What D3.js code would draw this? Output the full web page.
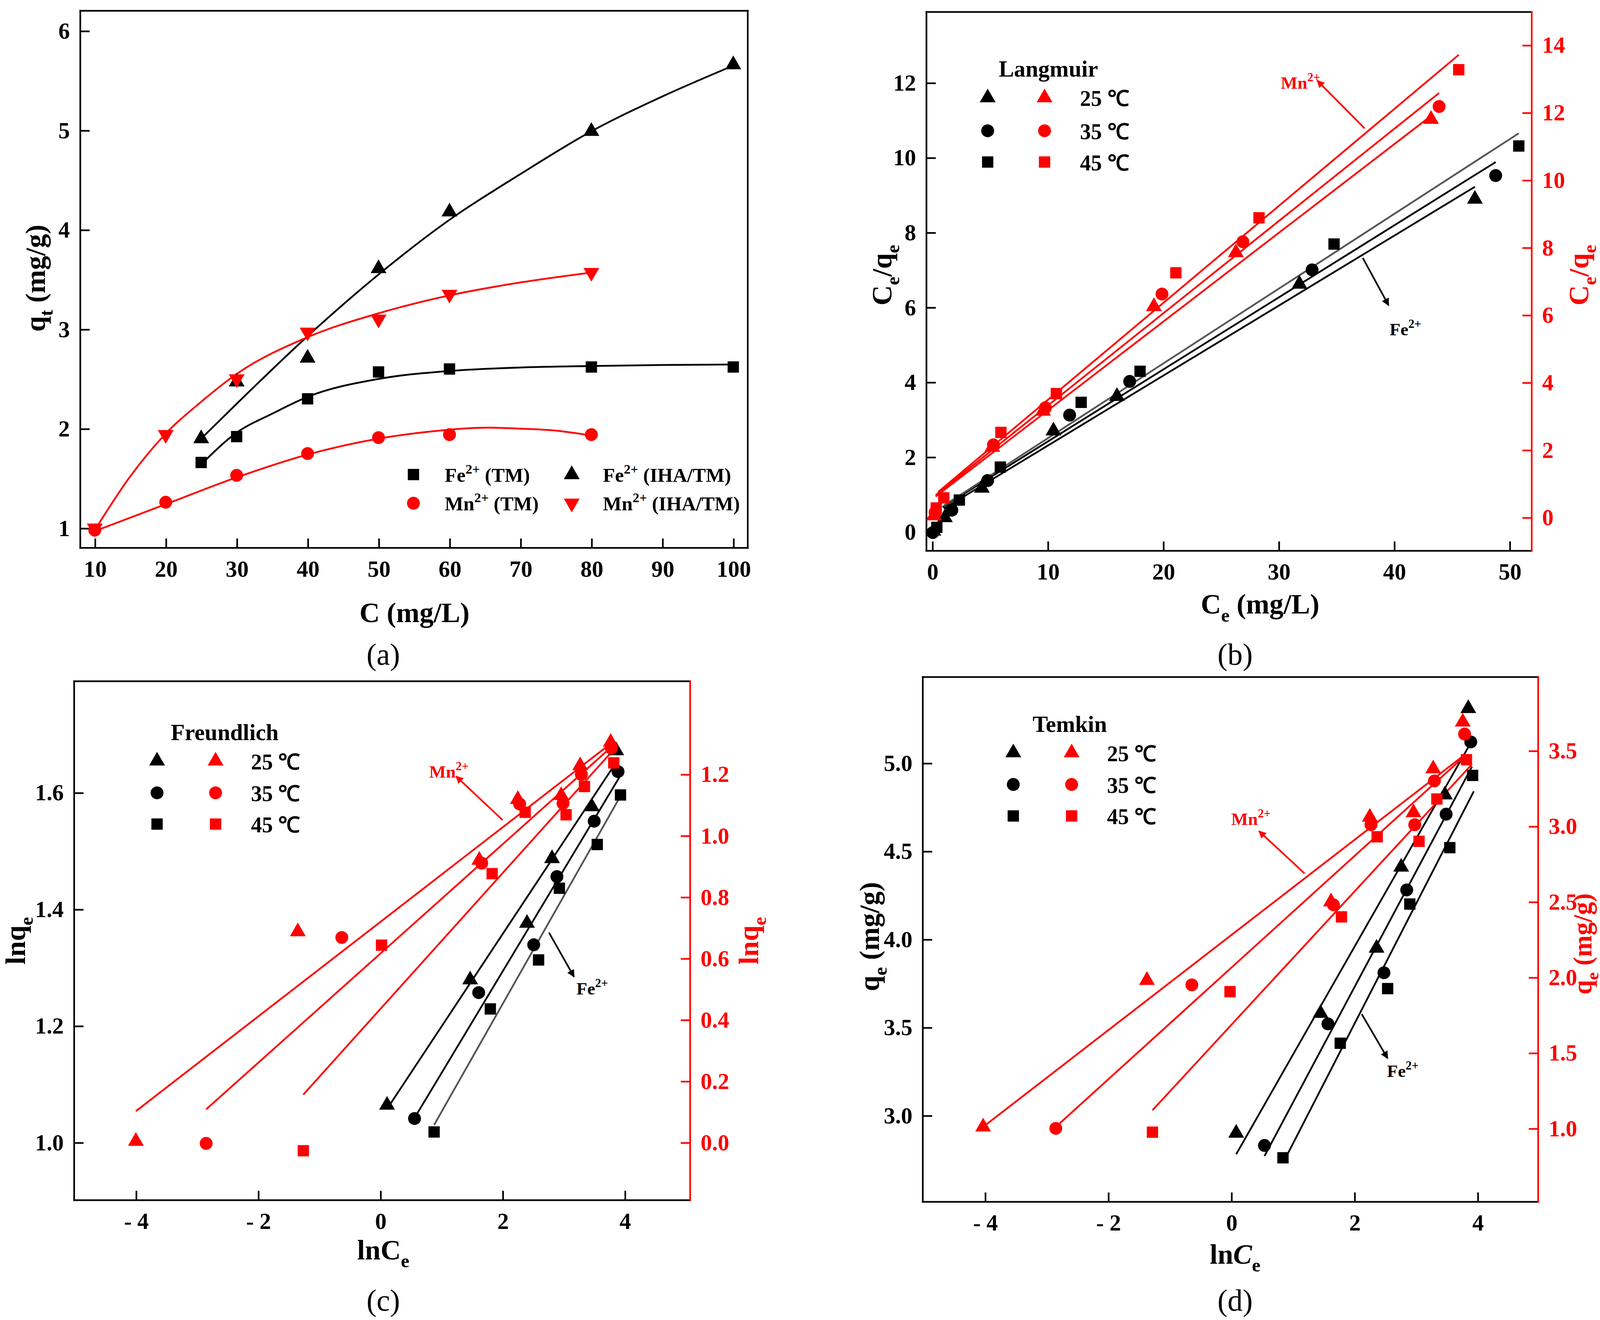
<!DOCTYPE html>
<html>
<head>
<meta charset="utf-8">
<script src="https://cdn.jsdelivr.net/npm/d3@7"></script>
<style>
html, body { margin: 0; padding: 0; background: #fff; overflow: hidden; }
svg { display: block; }
</style>
</head>
<body>
<script>
// ---------- (a) 初始浓度 - 吸附量 ----------
const aFeTM_C = [25, 30, 40, 50, 60, 80, 100];
const aFeTM_q = [1.66, 1.92, 2.30, 2.57, 2.60, 2.62, 2.62];
const aFeIHA_C = [25, 30, 40, 50, 60, 80, 100];
const aFeIHA_q = [1.90, 2.47, 2.71, 3.61, 4.18, 4.99, 5.66];
const aMnTM_C = [10, 20, 30, 40, 50, 60, 80];
const aMnTM_q = [0.98, 1.26, 1.53, 1.75, 1.91, 1.94, 1.94];
const aMnIHA_C = [10, 20, 30, 40, 50, 60, 80];
const aMnIHA_q = [1.00, 1.94, 2.50, 2.97, 3.10, 3.35, 3.57];
// 拟合曲线
const aFeTM_fitC = [25, 30, 35, 40, 50, 60, 70, 80, 90, 100];
const aFeTM_fitQ = [1.64, 1.96, 2.15, 2.32, 2.50, 2.58, 2.615, 2.63, 2.64, 2.645];
const aFeIHA_fitC = [25, 30, 40, 50, 60, 70, 80, 90, 100];
const aFeIHA_fitQ = [1.90, 2.25, 2.93, 3.55, 4.10, 4.56, 4.99, 5.34, 5.65];
const aMnTM_fitC = [10, 20, 30, 40, 50, 60, 65, 70, 75, 80];
const aMnTM_fitQ = [0.97, 1.24, 1.51, 1.74, 1.90, 1.99, 2.01, 2.00, 1.98, 1.93];
const aMnIHA_fitC = [10, 15, 20, 25, 30, 40, 50, 60, 70, 80];
const aMnIHA_fitQ = [0.98, 1.52, 1.95, 2.27, 2.55, 2.92, 3.16, 3.34, 3.47, 3.57];

// ---------- (b) Langmuir ----------
const bFe25_Ce = [0.1, 1.1, 4.3, 10.5, 16.0, 31.8, 47.0];
const bFe25_R = [0.02, 0.38, 1.17, 2.70, 3.62, 6.62, 8.89];
const bFe35_Ce = [0.05, 1.7, 4.8, 11.9, 17.1, 32.9, 48.8];
const bFe35_R = [-0.02, 0.58, 1.37, 3.12, 4.02, 7.00, 9.52];
const bFe45_Ce = [0.4, 2.35, 5.9, 12.9, 18.0, 34.8, 50.8];
const bFe45_R = [0.12, 0.85, 1.73, 3.46, 4.29, 7.69, 10.31];
const bMn25_Ce = [0.15, 5.2, 9.6, 19.2, 26.3, 43.2];
const bMn25_R = [0.05, 2.08, 3.15, 6.25, 7.85, 11.80];
const bMn35_Ce = [0.25, 5.3, 9.8, 19.9, 26.9, 43.9];
const bMn35_R = [0.15, 2.15, 3.25, 6.62, 8.17, 12.18];
const bMn45_Ce = [0.35, 1.0, 5.95, 10.75, 21.1, 28.3, 45.6];
const bMn45_R = [0.28, 0.58, 2.52, 3.67, 7.25, 8.88, 13.27];
const bFe25_fit = [[1.0, 0.62], [47.0, 9.22]];
const bFe35_fit = [[0.9, 0.66], [48.8, 9.88]];
const bFe45_fit = [[1.0, 0.70], [50.8, 10.65]];
const bMn25_fit = [[0.3, 0.62], [43.2, 11.90]];
const bMn35_fit = [[0.3, 0.66], [43.9, 12.58]];
const bMn45_fit = [[0.5, 0.75], [45.6, 13.71]];

// ---------- (c) Freundlich ----------
const cFe25_x = [0.11, 1.47, 2.40, 2.81, 3.46, 3.86];
const cFe25_y = [1.064, 1.279, 1.376, 1.487, 1.576, 1.672];
const cFe35_x = [0.56, 1.61, 2.51, 2.89, 3.50, 3.89];
const cFe35_y = [1.041, 1.257, 1.339, 1.456, 1.551, 1.636];
const cFe45_x = [0.88, 1.80, 2.59, 2.93, 3.55, 3.93];
const cFe45_y = [1.018, 1.229, 1.313, 1.436, 1.511, 1.596];
const cMn25_x = [-4.0, -1.35, 1.62, 2.25, 2.96, 3.27, 3.77];
const cMn25_y = [0.004, 0.687, 0.92, 1.118, 1.131, 1.228, 1.304];
const cMn35_x = [-2.85, -0.63, 1.66, 2.28, 2.99, 3.29, 3.78];
const cMn35_y = [-0.003, 0.668, 0.91, 1.103, 1.105, 1.199, 1.285];
const cMn45_x = [-1.26, 0.02, 1.83, 2.37, 3.04, 3.34, 3.82];
const cMn45_y = [-0.027, 0.643, 0.876, 1.076, 1.068, 1.160, 1.237];
const cFe25_fit = [[0.12, 1.059], [3.79, 1.641]];
const cFe35_fit = [[0.56, 1.042], [3.91, 1.626]];
const cFe45_fit = [[0.88, 1.030], [3.94, 1.596]];
const cMn25_fit = [[-4.0, 0.102], [3.72, 1.292]];
const cMn35_fit = [[-2.85, 0.108], [3.76, 1.285]];
const cMn45_fit = [[-1.26, 0.156], [3.80, 1.276]];

// ---------- (d) Temkin ----------
const dFe25_x = [0.08, 1.45, 2.36, 2.76, 3.47, 3.85];
const dFe25_y = [2.90, 3.58, 3.95, 4.41, 4.82, 5.31];
const dFe35_x = [0.54, 1.57, 2.48, 2.85, 3.49, 3.89];
const dFe35_y = [2.83, 3.52, 3.81, 4.28, 4.71, 5.12];
const dFe45_x = [0.84, 1.77, 2.54, 2.90, 3.55, 3.92];
const dFe45_y = [2.76, 3.41, 3.72, 4.20, 4.52, 4.93];
const dMn25_x = [-4.03, -1.37, 1.62, 2.25, 2.96, 3.28, 3.76];
const dMn25_y = [1.01, 1.98, 2.50, 3.06, 3.09, 3.38, 3.69];
const dMn35_x = [-2.85, -0.64, 1.66, 2.27, 2.98, 3.30, 3.79];
const dMn35_y = [1.00, 1.95, 2.48, 3.01, 3.01, 3.30, 3.61];
const dMn45_x = [-1.28, -0.02, 1.79, 2.37, 3.05, 3.34, 3.82];
const dMn45_y = [0.975, 1.905, 2.40, 2.93, 2.90, 3.18, 3.44];
const dFe25_fit = [[0.08, 2.78], [3.85, 5.09]];
const dFe35_fit = [[0.54, 2.77], [3.91, 4.98]];
const dFe45_fit = [[0.84, 2.73], [3.94, 4.84]];
const dMn25_fit = [[-4.03, 1.01], [3.75, 3.46]];
const dMn35_fit = [[-2.85, 1.01], [3.78, 3.46]];
const dMn45_fit = [[-1.28, 1.12], [3.91, 3.41]];

// 图例文字
const tempLabels = ["25 ℃", "35 ℃", "45 ℃"];

const FONT = '"Liberation Serif", "Times New Roman", serif';
const RED = "#ff0000";
const GRAY = "#555555";

const svg = d3.select("body").append("svg")
    .attr("width", 4159)
    .attr("height", 3378)
    .attr("viewBox", "0 0 1560 1267")
    .style("font-family", FONT)
    .style("font-weight", "bold");

const defs = svg.append("defs");
[["arrowK", "#000"], ["arrowR", RED]].forEach(([id, c]) => {
    defs.append("marker")
        .attr("id", id)
        .attr("viewBox", "0 0 10 10")
        .attr("refX", 9).attr("refY", 5)
        .attr("markerWidth", 7).attr("markerHeight", 4.6)
        .attr("orient", "auto")
        .append("path").attr("d", "M0,0 L10,5 L0,10 z").attr("fill", c);
});

const SYM = { tri: d3.symbolTriangle, cir: d3.symbolCircle, sq: d3.symbolSquare, down: d3.symbolTriangle };
const SYM_SIZE = { tri: 100, cir: 120, sq: 118, down: 100 };

function sym(g, shape, cx, cy, color) {
    g.append("path")
        .attr("d", d3.symbol().type(SYM[shape]).size(SYM_SIZE[shape])())
        .attr("transform", `translate(${cx},${cy})` + (shape === "down" ? " rotate(180)" : ""))
        .attr("fill", color);
}

// 带上下标的文字
function rich(g, parts, size, attrs) {
    const t = g.append("text").attr("font-size", size);
    Object.entries(attrs).forEach(([k, v]) => t.attr(k, v));
    let shift = 0;
    parts.forEach(p => {
        const [s, kind, style] = Array.isArray(p) ? p : [p];
        const target = kind === "sup" ? -0.42 * size : kind === "sub" ? 0.28 * size : 0;
        const sp = t.append("tspan").text(s).attr("dy", target - shift);
        if (kind) sp.attr("font-size", size * 0.68);
        if (style === "italic") sp.attr("font-style", "italic");
        shift = target;
    });
    return t;
}

function styleAxis(sel, color) {
    sel.select(".domain").remove();
    sel.selectAll(".tick line").attr("stroke", color).attr("stroke-width", 1.6);
    sel.selectAll(".tick text")
        .attr("fill", color)
        .attr("font-size", 22)
        .attr("font-family", FONT)
        .attr("font-weight", "bold");
}

const minusFmt = d => d < 0 ? "- " + Math.abs(d) : String(d);

function makePanel(p) {
    const g = svg.append("g");
    const x = d3.scaleLinear().domain(p.xDomain).range([p.l, p.r]);
    const y = d3.scaleLinear().domain(p.yDomain).range([p.b, p.t]);
    const y2 = p.y2Domain ? d3.scaleLinear().domain(p.y2Domain).range([p.b, p.t]) : null;

    g.append("g").attr("transform", `translate(0,${p.b})`)
        .call(d3.axisBottom(x).tickValues(p.xTicks).tickFormat(p.xFmt)
            .tickSizeInner(-9).tickSizeOuter(0).tickPadding(12))
        .call(styleAxis, "#000");
    g.append("g").attr("transform", `translate(${p.l},0)`)
        .call(d3.axisLeft(y).tickValues(p.yTicks).tickFormat(p.yFmt)
            .tickSizeInner(-9).tickSizeOuter(0).tickPadding(10))
        .call(styleAxis, "#000");
    if (y2) {
        g.append("g").attr("transform", `translate(${p.r},0)`)
            .call(d3.axisRight(y2).tickValues(p.y2Ticks).tickFormat(p.y2Fmt)
                .tickSizeInner(-9).tickSizeOuter(0).tickPadding(10))
            .call(styleAxis, RED);
    }

    const fr = g.append("g").attr("stroke-width", 1.6).attr("stroke-linecap", "square");
    fr.append("line").attr("x1", p.l).attr("x2", p.r).attr("y1", p.t).attr("y2", p.t).attr("stroke", "#000");
    fr.append("line").attr("x1", p.l).attr("x2", p.r).attr("y1", p.b).attr("y2", p.b).attr("stroke", "#000");
    fr.append("line").attr("x1", p.l).attr("x2", p.l).attr("y1", p.t).attr("y2", p.b).attr("stroke", "#000");
    fr.append("line").attr("x1", p.r).attr("x2", p.r).attr("y1", p.t).attr("y2", p.b)
        .attr("stroke", y2 ? RED : "#000");

    return { g, x, y, y2, p };
}

function drawFit(P, pts, ys, color, curve) {
    const line = d3.line()
        .x(d => P.x(d[0]))
        .y(d => ys(d[1]))
        .curve(curve || d3.curveLinear);
    P.g.append("path")
        .attr("d", line(pts))
        .attr("fill", "none")
        .attr("stroke", color)
        .attr("stroke-width", 1.7);
}

function drawPts(P, xs, vals, ys, shape, color) {
    xs.forEach((v, i) => sym(P.g, shape, P.x(v), ys(vals[i]), color));
}

function annotate(P, label, color, textPos, anchor, arrow) {
    const c = color === RED ? "arrowR" : "arrowK";
    P.g.append("line")
        .attr("x1", P.x(arrow[0][0])).attr("y1", P.y(arrow[0][1]))
        .attr("x2", P.x(arrow[1][0])).attr("y2", P.y(arrow[1][1]))
        .attr("stroke", color).attr("stroke-width", 1.6)
        .attr("marker-end", `url(#${c})`);
    rich(P.g, [label, ["2+", "sup"]], 17, {
        x: P.x(textPos[0]), y: P.y(textPos[1]), fill: color, "text-anchor": anchor
    });
}

function tempLegend(P, title, tx, ty, kx, rx, lx, rows) {
    rich(P.g, [title], 22, { x: tx, y: ty });
    ["tri", "cir", "sq"].forEach((s, i) => {
        sym(P.g, s, kx, rows[i], "#000");
        sym(P.g, s, rx, rows[i], RED);
        rich(P.g, [tempLabels[i]], 21, { x: lx, y: rows[i] + 8 });
    });
}

function rotTitle(g, parts, cx, cy, color, size) {
    rich(g, parts, size || 27, {
        transform: `translate(${cx},${cy}) rotate(-90)`,
        "text-anchor": "middle", y: 9, fill: color
    });
}

function caption(label, cx, cy) {
    svg.append("text").attr("x", cx).attr("y", cy)
        .attr("text-anchor", "middle").attr("font-size", 29)
        .attr("font-weight", "normal").text(label);
}

const zip = (a, b) => a.map((v, i) => [v, b[i]]);

// ================= (a) =================
const A = makePanel({
    l: 77.1, r: 718, t: 10.3, b: 525.9,
    xDomain: [7.96, 102.04], yDomain: [0.801, 6.202],
    xTicks: d3.range(10, 101, 10), yTicks: [1, 2, 3, 4, 5, 6],
    xFmt: d3.format("d"), yFmt: d3.format("d")
});
drawFit(A, zip(aFeTM_fitC, aFeTM_fitQ), A.y, "#000", d3.curveMonotoneX);
drawFit(A, zip(aFeIHA_fitC, aFeIHA_fitQ), A.y, "#000", d3.curveMonotoneX);
drawFit(A, zip(aMnTM_fitC, aMnTM_fitQ), A.y, RED, d3.curveCatmullRom);
drawFit(A, zip(aMnIHA_fitC, aMnIHA_fitQ), A.y, RED, d3.curveMonotoneX);
drawPts(A, aFeTM_C, aFeTM_q, A.y, "sq", "#000");
drawPts(A, aFeIHA_C, aFeIHA_q, A.y, "tri", "#000");
drawPts(A, aMnTM_C, aMnTM_q, A.y, "cir", RED);
drawPts(A, aMnIHA_C, aMnIHA_q, A.y, "down", RED);

const aLegend = [
    { s: "sq", c: "#000", el: "Fe", tag: " (TM)", x: 397, y: 455.5 },
    { s: "tri", c: "#000", el: "Fe", tag: " (IHA/TM)", x: 549, y: 455.5 },
    { s: "cir", c: RED, el: "Mn", tag: " (TM)", x: 397, y: 483 },
    { s: "down", c: RED, el: "Mn", tag: " (IHA/TM)", x: 549, y: 483 }
];
aLegend.forEach(d => {
    sym(A.g, d.s, d.x, d.y, d.c);
    rich(A.g, [d.el, ["2+", "sup"], d.tag], 19, { x: d.x + 30, y: d.y + 7 });
});
rotTitle(A.g, ["q", ["t", "sub"], " (mg/g)"], 34, 267, "#000");
rich(A.g, ["C (mg/L)"], 27, { x: 398, y: 597, "text-anchor": "middle" });
caption("(a)", 368, 638);

// ================= (b) =================
const B = makePanel({
    l: 889.6, r: 1470.8, t: 11.5, b: 528.7,
    xDomain: [-0.50, 51.92], yDomain: [-0.507, 13.89], y2Domain: [-0.99, 14.98],
    xTicks: [0, 10, 20, 30, 40, 50], yTicks: d3.range(0, 13, 2), y2Ticks: d3.range(0, 15, 2),
    xFmt: d3.format("d"), yFmt: d3.format("d"), y2Fmt: d3.format("d")
});
drawFit(B, bFe25_fit, B.y, "#000");
drawFit(B, bFe35_fit, B.y, "#000");
drawFit(B, bFe45_fit, B.y, GRAY);
drawFit(B, bMn25_fit, B.y2, RED);
drawFit(B, bMn35_fit, B.y2, RED);
drawFit(B, bMn45_fit, B.y2, RED);
drawPts(B, bFe25_Ce, bFe25_R, B.y, "tri", "#000");
drawPts(B, bFe35_Ce, bFe35_R, B.y, "cir", "#000");
drawPts(B, bFe45_Ce, bFe45_R, B.y, "sq", "#000");
drawPts(B, bMn25_Ce, bMn25_R, B.y2, "tri", RED);
drawPts(B, bMn35_Ce, bMn35_R, B.y2, "cir", RED);
drawPts(B, bMn45_Ce, bMn45_R, B.y2, "sq", RED);
tempLegend(B, "Langmuir", 959, 73.5, 948.4, 1003, 1037, [93.8, 125.5, 155.5]);
annotate(B, "Mn", RED, [33.6, 11.84], "end", [[37.45, 10.78], [33.34, 12.06]]);
annotate(B, "Fe", "#000", [39.62, 5.25], "start", [[37.29, 7.32], [39.53, 6.05]]);
rotTitle(B.g, ["C", ["e", "sub"], "/q", ["e", "sub"]], 847, 264, "#000");
rotTitle(B.g, ["C", ["e", "sub"], "/q", ["e", "sub"]], 1516, 264, RED);
rich(B.g, ["C", ["e", "sub"], " (mg/L)"], 27, { x: 1210, y: 589, "text-anchor": "middle" });
caption("(b)", 1186, 638);

// ================= (c) =================
const C = makePanel({
    l: 71.2, r: 662.7, t: 653.9, b: 1152.0,
    xDomain: [-5.01, 5.07], yDomain: [0.901, 1.791], y2Domain: [-0.188, 1.503],
    xTicks: [-4, -2, 0, 2, 4], yTicks: [1.0, 1.2, 1.4, 1.6], y2Ticks: d3.range(0, 7).map(i => i * 0.2),
    xFmt: minusFmt, yFmt: d3.format(".1f"), y2Fmt: d3.format(".1f")
});
drawFit(C, cFe25_fit, C.y, "#000");
drawFit(C, cFe35_fit, C.y, "#000");
drawFit(C, cFe45_fit, C.y, GRAY);
drawFit(C, cMn25_fit, C.y2, RED);
drawFit(C, cMn35_fit, C.y2, RED);
drawFit(C, cMn45_fit, C.y2, RED);
drawPts(C, cFe25_x, cFe25_y, C.y, "tri", "#000");
drawPts(C, cFe35_x, cFe35_y, C.y, "cir", "#000");
drawPts(C, cFe45_x, cFe45_y, C.y, "sq", "#000");
drawPts(C, cMn25_x, cMn25_y, C.y2, "tri", RED);
drawPts(C, cMn35_x, cMn35_y, C.y2, "cir", RED);
drawPts(C, cMn45_x, cMn45_y, C.y2, "sq", RED);
tempLegend(C, "Freundlich", 164, 710.5, 150.8, 207, 241, [730.4, 761, 791]);
annotate(C, "Mn", RED, [0.80, 1.626], "start", [[2.00, 1.553], [1.24, 1.628]]);
annotate(C, "Fe", "#000", [3.21, 1.254], "start", [[2.76, 1.360], [3.17, 1.284]]);
rotTitle(C.g, ["lnq", ["e", "sub"]], 15, 903, "#000");
rotTitle(C.g, ["lnq", ["e", "sub"]], 719, 903, RED);
rich(C.g, ["lnC", ["e", "sub"]], 27, { x: 368, y: 1209, "text-anchor": "middle" });
caption("(c)", 368, 1258);

// ================= (d) =================
const D = makePanel({
    l: 886.1, r: 1477, t: 649.9, b: 1153.6,
    xDomain: [-5.01, 4.985], yDomain: [2.51, 5.488], y2Domain: [0.514, 3.987],
    xTicks: [-4, -2, 0, 2, 4], yTicks: [3.0, 3.5, 4.0, 4.5, 5.0], y2Ticks: [1.0, 1.5, 2.0, 2.5, 3.0, 3.5],
    xFmt: minusFmt, yFmt: d3.format(".1f"), y2Fmt: d3.format(".1f")
});
drawFit(D, dFe25_fit, D.y, "#000");
drawFit(D, dFe35_fit, D.y, "#000");
drawFit(D, dFe45_fit, D.y, "#000");
drawFit(D, dMn25_fit, D.y2, RED);
drawFit(D, dMn35_fit, D.y2, RED);
drawFit(D, dMn45_fit, D.y2, RED);
drawPts(D, dFe25_x, dFe25_y, D.y, "tri", "#000");
drawPts(D, dFe35_x, dFe35_y, D.y, "cir", "#000");
drawPts(D, dFe45_x, dFe45_y, D.y, "sq", "#000");
drawPts(D, dMn25_x, dMn25_y, D.y2, "tri", RED);
drawPts(D, dMn35_x, dMn35_y, D.y2, "cir", RED);
drawPts(D, dMn45_x, dMn45_y, D.y2, "sq", RED);
tempLegend(D, "Temkin", 991.6, 702.7, 973, 1029, 1063, [722.5, 753, 783.2]);
annotate(D, "Mn", RED, [0.0, 4.649], "start", [[1.19, 4.374], [0.45, 4.614]]);
annotate(D, "Fe", "#000", [2.53, 3.218], "start", [[2.12, 3.575], [2.54, 3.324]]);
rotTitle(D.g, ["q", ["e", "sub"], " (mg/g)"], 835, 899, "#000");
rotTitle(D.g, ["q", ["e", "sub"], " (mg/g)"], 1519, 906, RED, 25);
rich(D.g, ["ln", ["C", null, "italic"], ["e", "sub"]], 27, { x: 1186, y: 1213, "text-anchor": "middle" });
caption("(d)", 1186, 1258);
</script>
</body>
</html>
